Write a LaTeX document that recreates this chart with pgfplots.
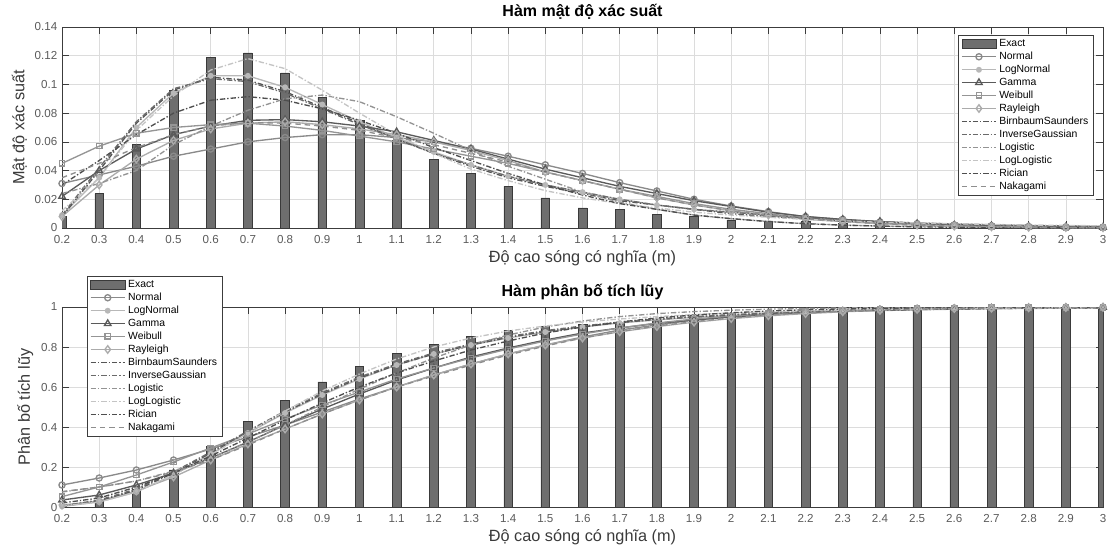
\documentclass[border=0pt]{standalone}
\usepackage{fontspec}
\setmainfont{Liberation Sans}
\usepackage{pgfplots}
\usepackage{pgfplotstable}
\pgfplotsset{compat=1.18}

\definecolor{barfill}{HTML}{6E6E6E}
\definecolor{bardark}{HTML}{3A3A3A}
\definecolor{gridgray}{HTML}{DCDCDC}
\definecolor{axisgray}{HTML}{3C3C3C}
\definecolor{ticklabelgray}{HTML}{5A5A5A}
\definecolor{labelgray}{HTML}{3A3A3A}
\definecolor{cNormal}{HTML}{8A8A8A}
\definecolor{cLogNormal}{HTML}{B8B8B8}
\definecolor{cGamma}{HTML}{5A5A5A}
\definecolor{cWeibull}{HTML}{959595}
\definecolor{cRayleigh}{HTML}{ABABAB}
\definecolor{cBS}{HTML}{555555}
\definecolor{cIG}{HTML}{6A6A6A}
\definecolor{cLogistic}{HTML}{939393}
\definecolor{cLogLogistic}{HTML}{C4C4C4}
\definecolor{cRician}{HTML}{4E4E4E}
\definecolor{cNakagami}{HTML}{8E8E8E}

\pgfplotstableread{
x    exact  normal lognormal gamma  weibull rayleigh bs     ig     logistic loglogistic rician nakagami
0.2  0.008  0.031  0.009  0.022  0.045  0.008  0.008  0.009  0.024  0.012  0.030  0.035
0.3  0.024  0.037  0.035  0.040  0.057  0.030  0.040  0.042  0.031  0.035  0.047  0.045
0.4  0.058  0.043  0.070  0.055  0.066  0.048  0.073  0.074  0.040  0.068  0.065  0.056
0.5  0.096  0.050  0.094  0.065  0.070  0.061  0.096  0.097  0.058  0.092  0.080  0.065
0.6  0.119  0.055  0.106  0.071  0.072  0.069  0.105  0.104  0.071  0.110  0.089  0.071
0.7  0.122  0.060  0.106  0.075  0.073  0.073  0.103  0.102  0.082  0.118  0.0915 0.0735
0.8  0.108  0.063  0.098  0.0755 0.071  0.074  0.095  0.094  0.090  0.111  0.089  0.073
0.9  0.091  0.065  0.086  0.074  0.068  0.072  0.084  0.083  0.0926 0.096  0.083  0.071
1.0  0.075  0.065  0.074  0.071  0.064  0.069  0.073  0.072  0.088  0.080  0.075  0.068
1.1  0.061  0.063  0.063  0.067  0.060  0.065  0.062  0.062  0.0775 0.065  0.066  0.063
1.2  0.048  0.060  0.053  0.061  0.055  0.060  0.052  0.052  0.066  0.052  0.056  0.058
1.3  0.038  0.0555 0.044  0.055  0.050  0.054  0.043  0.044  0.054  0.041  0.047  0.052
1.4  0.029  0.050  0.036  0.048  0.045  0.047  0.035  0.036  0.043  0.033  0.038  0.046
1.5  0.021  0.044  0.030  0.041  0.039  0.039  0.029  0.030  0.034  0.026  0.030  0.039
1.6  0.014  0.038  0.025  0.035  0.033  0.033  0.024  0.025  0.025  0.021  0.023  0.033
1.7  0.013  0.0316 0.020  0.029  0.027  0.027  0.019  0.020  0.018  0.017  0.017  0.027
1.8  0.0095 0.0258 0.016  0.024  0.022  0.021  0.016  0.016  0.013  0.014  0.013  0.021
1.9  0.008  0.020  0.013  0.019  0.017  0.016  0.013  0.013  0.009  0.011  0.009  0.016
2.0  0.0056 0.0153 0.011  0.015  0.013  0.012  0.010  0.011  0.0065 0.009  0.0065 0.012
2.1  0.005  0.0114 0.009  0.011  0.010  0.009  0.008  0.009  0.0045 0.0075 0.0045 0.009
2.2  0.0045 0.0079 0.007  0.008  0.007  0.006  0.0065 0.007  0.003  0.006  0.003  0.0065
2.3  0.003  0.006  0.0055 0.006  0.005  0.0045 0.005  0.0055 0.002  0.005  0.002  0.0045
2.4  0.0025 0.0042 0.0045 0.0045 0.0035 0.003  0.004  0.0045 0.0014 0.004  0.0013 0.003
2.5  0.002  0.003  0.0035 0.003  0.0025 0.002  0.0032 0.0035 0.001  0.0035 0.0008 0.002
2.6  0.0015 0.002  0.0028 0.002  0.0017 0.0013 0.0025 0.0028 0.0007 0.003  0.0005 0.0013
2.7  0.0012 0.0014 0.0022 0.0015 0.0011 0.0008 0.002  0.0022 0.0005 0.0025 0.0003 0.0008
2.8  0.001  0.001  0.0018 0.001  0.0007 0.0005 0.0016 0.0018 0.0003 0.002  0.0002 0.0005
2.9  0.0008 0.0007 0.0014 0.0007 0.0005 0.0003 0.0013 0.0014 0.0002 0.0018 0.0001 0.0003
3.0  0.0006 0.0005 0.0011 0.0005 0.0003 0.0002 0.001  0.0011 0.0002 0.0015 0.0001 0.0002
}\pdftable

\pgfplotstableread{
x    exact  normal lognormal gamma  weibull rayleigh bs     ig     logistic loglogistic rician nakagami
0.2  0.008  0.11   0.003  0.035  0.052  0.01   0.004  0.005  0.075  0.005  0.02   0.077
0.3  0.032  0.145  0.025  0.06   0.10   0.03   0.03   0.035  0.10   0.025  0.045  0.10
0.4  0.090  0.185  0.075  0.11   0.16   0.08   0.085  0.09   0.13   0.075  0.10   0.13
0.5  0.186  0.235  0.16   0.17   0.225  0.15   0.17   0.175  0.18   0.16   0.17   0.175
0.6  0.305  0.29   0.265  0.245  0.295  0.235  0.27   0.275  0.245  0.26   0.255  0.235
0.7  0.427  0.35   0.37   0.325  0.365  0.315  0.375  0.38   0.325  0.37   0.345  0.31
0.8  0.535  0.41   0.47   0.41   0.44   0.39   0.475  0.48   0.41   0.48   0.435  0.39
0.9  0.626  0.475  0.56   0.49   0.51   0.465  0.565  0.57   0.50   0.58   0.52   0.465
1.0  0.705  0.54   0.64   0.565  0.575  0.535  0.645  0.65   0.59   0.665  0.60   0.535
1.1  0.768  0.60   0.71   0.635  0.64   0.60   0.71   0.715  0.67   0.74   0.67   0.60
1.2  0.815  0.66   0.765  0.695  0.695  0.66   0.765  0.77   0.745  0.80   0.73   0.655
1.3  0.855  0.715  0.81   0.75   0.745  0.715  0.81   0.815  0.81   0.845  0.785  0.71
1.4  0.885  0.765  0.845  0.795  0.79   0.765  0.848  0.852  0.86   0.88   0.83   0.76
1.5  0.905  0.81   0.875  0.835  0.83   0.81   0.878  0.882  0.90   0.905  0.87   0.805
1.6  0.915  0.85   0.90   0.87   0.865  0.845  0.902  0.905  0.93   0.925  0.90   0.845
1.7  0.925  0.885  0.92   0.895  0.895  0.876  0.922  0.925  0.952  0.94   0.925  0.877
1.8  0.94   0.91   0.935  0.918  0.92   0.902  0.938  0.94   0.967  0.952  0.945  0.905
1.9  0.96   0.935  0.948  0.935  0.94   0.924  0.95   0.952  0.977  0.962  0.96   0.927
2.0  0.97   0.952  0.958  0.95   0.955  0.942  0.96   0.962  0.984  0.97   0.971  0.945
2.1  0.975  0.965  0.966  0.962  0.967  0.956  0.968  0.97   0.989  0.976  0.98   0.96
2.2  0.98   0.975  0.973  0.971  0.976  0.967  0.975  0.976  0.993  0.981  0.986  0.97
2.3  0.985  0.983  0.978  0.978  0.983  0.976  0.98   0.981  0.995  0.985  0.99   0.978
2.4  0.99   0.989  0.982  0.984  0.988  0.983  0.984  0.985  0.997  0.988  0.993  0.985
2.5  0.993  0.993  0.986  0.988  0.992  0.988  0.987  0.988  0.998  0.99   0.995  0.99
2.6  0.995  0.995  0.989  0.991  0.995  0.992  0.99   0.991  0.999  0.992  0.997  0.993
2.7  0.997  0.997  0.991  0.994  0.997  0.994  0.992  0.993  0.999  0.994  0.998  0.995
2.8  0.998  0.998  0.993  0.996  0.998  0.996  0.994  0.995  0.9995 0.995  0.999  0.997
2.9  0.999  0.999  0.994  0.997  0.999  0.997  0.995  0.996  1.0    0.996  0.999  0.998
3.0  1.0    0.9995 0.995  0.998  0.999  0.998  0.996  0.997  1.0    0.997  1.0    0.999
}\cdftable

\pgfplotsset{
  common/.style={
    scale only axis,
    width=780.75pt,
    xmin=0.2, xmax=3,
    xtick={0.2,0.3,0.4,0.5,0.6,0.7,0.8,0.9,1.0,1.1,1.2,1.3,1.4,1.5,1.6,1.7,1.8,1.9,2.0,2.1,2.2,2.3,2.4,2.5,2.6,2.7,2.8,2.9,3.0},
    xticklabels={0.2,0.3,0.4,0.5,0.6,0.7,0.8,0.9,1,1.1,1.2,1.3,1.4,1.5,1.6,1.7,1.8,1.9,2,2.1,2.2,2.3,2.4,2.5,2.6,2.7,2.8,2.9,3},
    tick align=inside,
    major tick length=5pt,
    grid=major,
    grid style={draw=gridgray, line width=0.45pt},
    axis line style={draw=axisgray, line width=0.5pt},
    tick style={draw=axisgray, line width=0.5pt},
    tick label style={font=\fontsize{8.7}{10}\selectfont, text=ticklabelgray},
    xticklabel style={yshift=-2pt},
    /pgf/number format/assume math mode=true,
    yticklabel style={/pgf/number format/fixed, /pgf/number format/precision=2},
    label style={font=\fontsize{12.2}{14}\selectfont, text=labelgray},
    xlabel style={yshift=2pt},
    ylabel style={yshift=-1pt},
    title style={font=\fontsize{12}{14}\selectfont\bfseries, text=black, yshift=-4pt},
    xlabel={Độ cao sóng có nghĩa (m)},
    legend cell align=left,
    legend style={font=\fontsize{7.8}{9}\selectfont, draw=axisgray, fill=white, line width=0.5pt,
      inner xsep=2pt, inner ysep=1.5pt, row sep=-0.4pt,
      nodes={inner ysep=1.5pt}},
    legend image code/.code={\draw[mark repeat=2,mark phase=2,##1] plot coordinates {(0cm,0cm) (0.45cm,0cm) (0.9cm,0cm)};},
  },
  barst/.style={ybar, bar width=6.5pt, fill=barfill, draw=bardark, line width=0.4pt,
    area legend,
    legend image code/.code={\draw[fill=barfill, draw=bardark] (0cm,-0.12cm) rectangle (0.9cm,0.12cm);}},
  sNormal/.style={cNormal, line width=1pt, mark=o, mark size=2.3pt, mark options={solid}},
  sLogNormal/.style={cLogNormal, line width=1pt, mark=*, mark size=1.7pt, mark options={solid, fill=cLogNormal}},
  sGamma/.style={cGamma, line width=1pt, mark=triangle, mark size=2.8pt, mark options={solid}},
  sWeibull/.style={cWeibull, line width=1pt, mark=square, mark size=2pt, mark options={solid}},
  sRayleigh/.style={cRayleigh, line width=1pt, mark=diamond, mark size=2.8pt, mark options={solid}},
  sBS/.style={cBS, line width=1pt, dash pattern=on 4pt off 1.5pt on 1pt off 1.5pt},
  sIG/.style={cIG, line width=1pt, dash pattern=on 4pt off 1.5pt on 1pt off 1.5pt},
  sLogistic/.style={cLogistic, line width=1pt, dash pattern=on 4pt off 1.5pt on 1pt off 1.5pt},
  sLogLogistic/.style={cLogLogistic, line width=1pt, dash pattern=on 4pt off 1.5pt on 1pt off 1.5pt},
  sRician/.style={cRician, line width=1pt, dash pattern=on 4pt off 1.5pt on 1pt off 1.5pt},
  sNakagami/.style={cNakagami, line width=1pt, dash pattern=on 4pt off 3pt},
}

\begin{document}
\begin{tikzpicture}
\path[use as bounding box] (0pt,0pt) rectangle (831.75pt,-409.5pt);

\begin{axis}[common,
  at={(46.5pt,-20.25pt)}, anchor=north west,
  height=150.75pt,
  ymin=0, ymax=0.14,
  ytick={0,0.02,0.04,0.06,0.08,0.1,0.12,0.14},
  ylabel={Mật độ xác suất},
  title={Hàm mật độ xác suất},
  legend style={at={(rel axis cs:0.9914,0.96)}, anchor=north east},
]
\addplot[barst] table[x=x,y=exact]{\pdftable};
\addplot[sNormal] table[x=x,y=normal]{\pdftable};
\addplot[sLogNormal] table[x=x,y=lognormal]{\pdftable};
\addplot[sGamma] table[x=x,y=gamma]{\pdftable};
\addplot[sWeibull] table[x=x,y=weibull]{\pdftable};
\addplot[sRayleigh] table[x=x,y=rayleigh]{\pdftable};
\addplot[sBS] table[x=x,y=bs]{\pdftable};
\addplot[sIG] table[x=x,y=ig]{\pdftable};
\addplot[sLogistic] table[x=x,y=logistic]{\pdftable};
\addplot[sLogLogistic] table[x=x,y=loglogistic]{\pdftable};
\addplot[sRician] table[x=x,y=rician]{\pdftable};
\addplot[sNakagami] table[x=x,y=nakagami]{\pdftable};
\legend{Exact,Normal,LogNormal,Gamma,Weibull,Rayleigh,BirnbaumSaunders,InverseGaussian,Logistic,LogLogistic,Rician,Nakagami}
\end{axis}

\begin{axis}[common,
  at={(46.5pt,-230.25pt)}, anchor=north west,
  height=150pt,
  ymin=0, ymax=1,
  ytick={0,0.2,0.4,0.6,0.8,1},
  ylabel={Phân bố tích lũy},
  title={Hàm phân bố tích lũy},
  legend style={at={(rel axis cs:0.024,1.155)}, anchor=north west},
]
\addplot[barst] table[x=x,y=exact]{\cdftable};
\addplot[sNormal] table[x=x,y=normal]{\cdftable};
\addplot[sLogNormal] table[x=x,y=lognormal]{\cdftable};
\addplot[sGamma] table[x=x,y=gamma]{\cdftable};
\addplot[sWeibull] table[x=x,y=weibull]{\cdftable};
\addplot[sRayleigh] table[x=x,y=rayleigh]{\cdftable};
\addplot[sBS] table[x=x,y=bs]{\cdftable};
\addplot[sIG] table[x=x,y=ig]{\cdftable};
\addplot[sLogistic] table[x=x,y=logistic]{\cdftable};
\addplot[sLogLogistic] table[x=x,y=loglogistic]{\cdftable};
\addplot[sRician] table[x=x,y=rician]{\cdftable};
\addplot[sNakagami] table[x=x,y=nakagami]{\cdftable};
\legend{Exact,Normal,LogNormal,Gamma,Weibull,Rayleigh,BirnbaumSaunders,InverseGaussian,Logistic,LogLogistic,Rician,Nakagami}
\end{axis}
\end{tikzpicture}
\end{document}
